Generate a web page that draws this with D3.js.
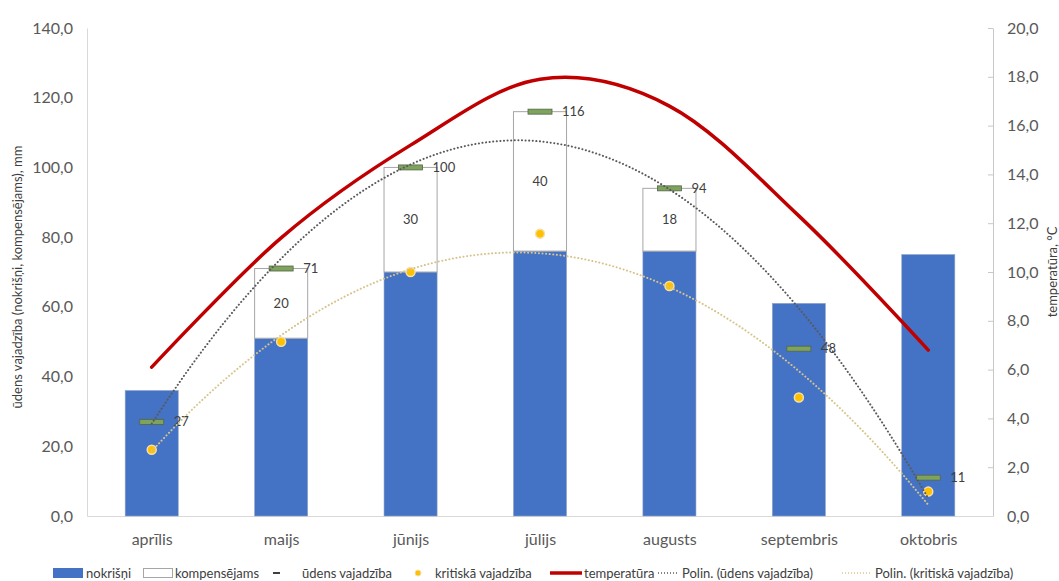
<!DOCTYPE html>
<html><head><meta charset="utf-8">
<script src="https://cdn.jsdelivr.net/npm/d3@7"></script>
<style>body{margin:0;background:#fff} svg{display:block;font-family:Lato,"Open Sans",sans-serif}</style>
</head><body><svg id="c" width="1059" height="581"></svg>
<script>
const categories = ["aprīlis","maijs","jūnijs","jūlijs","augusts","septembris","oktobris"];
const nokrisni = [36, 51, 70, 76, 76, 61, 75];
const kompensejams = [0, 20, 30, 40, 18, 0, 0];
const udensVajadziba = [27, 71, 100, 116, 94, 48, 11];
const kritiskaVajadziba = [19, 50, 70, 81, 66, 34, 7];
const temperatura = [6.1, 11.4, 15.2, 17.9, 16.8, 12.3, 6.8];
const leftTicks = [0, 20, 40, 60, 80, 100, 120, 140];
const rightTicks = [0, 2, 4, 6, 8, 10, 12, 14, 16, 18, 20];
const leftTitle = "ūdens vajadzība (nokrišņi, kompensējams), mm";
const rightTitle = "temperatūra, °C";
const legendLabels = ["nokrišņi","kompensējams","ūdens vajadzība","kritiskā vajadzība","temperatūra","Polin. (ūdens vajadzība)","Polin. (kritiskā vajadzība)"];

const svg = d3.select("#c");
const L = 87, R = 993, T = 28, B = 516;
const x = d3.scalePoint().domain(categories).range([L, R]).padding(0.5);
const yL = d3.scaleLinear().domain([0, 140]).range([B, T]);
const yR = d3.scaleLinear().domain([0, 20]).range([B, T]);
const bw = x.step() * 0.41;
const fmt = d => d3.format(".1f")(d).replace(".", ",");
const axisCol = "#d9d9d9", txtCol = "#595959";

// axes
const gl = svg.append("g").attr("transform", `translate(${L},0)`)
  .call(d3.axisLeft(yL).tickValues(leftTicks).tickFormat(fmt).tickSize(0).tickPadding(14));
gl.select(".domain").attr("stroke", axisCol);
gl.selectAll("text").attr("fill", txtCol).style("font-size", "16px").style("font-family", "Lato");

const gr = svg.append("g").attr("transform", `translate(${R},0)`)
  .call(d3.axisRight(yR).tickValues(rightTicks).tickFormat(fmt).tickSizeInner(-5).tickSizeOuter(0).tickPadding(14));
gr.select(".domain").attr("stroke", "#c8c8c8");
gr.selectAll("line").attr("stroke", "#c8c8c8");
gr.selectAll("text").attr("fill", txtCol).style("font-size", "16px").style("font-family", "Lato");

const gb = svg.append("g").attr("transform", `translate(0,${B})`)
  .call(d3.axisBottom(x).tickSize(0).tickPadding(18));
gb.select(".domain").attr("stroke", axisCol);
gb.selectAll("text").attr("fill", txtCol).style("font-size", "16px").style("font-family", "Lato");

svg.append("text").attr("transform", `translate(22,${(T+B)/2 + 5}) rotate(-90)`)
  .attr("text-anchor", "middle").attr("fill", "#404040").style("font-size", "13px").text(leftTitle);
svg.append("text").attr("transform", `translate(1057,${(T+B)/2 + 0}) rotate(-90)`)
  .attr("text-anchor", "middle").attr("fill", "#404040").style("font-size", "13px").text(rightTitle);

// bars
const bars = svg.append("g");
bars.selectAll("rect.n").data(categories).join("rect").attr("class", "n")
  .attr("x", d => x(d) - bw/2).attr("width", bw)
  .attr("y", (d,i) => yL(nokrisni[i])).attr("height", (d,i) => B - yL(nokrisni[i]))
  .attr("fill", "#4472C4").attr("stroke", "#8fa3c6").attr("stroke-width", 0.6);
bars.selectAll("rect.k").data(categories.filter((d,i) => kompensejams[i] > 0)).join("rect").attr("class", "k")
  .attr("x", d => x(d) - bw/2).attr("width", bw)
  .attr("y", d => { const i = categories.indexOf(d); return yL(nokrisni[i] + kompensejams[i]); })
  .attr("height", d => { const i = categories.indexOf(d); return yL(nokrisni[i]) - yL(nokrisni[i] + kompensejams[i]); })
  .attr("fill", "#fff").attr("stroke", "#a6a6a6").attr("stroke-width", 1);
bars.selectAll("text.k").data(categories.filter((d,i) => kompensejams[i] > 0)).join("text").attr("class", "k")
  .attr("x", d => x(d)).attr("y", d => { const i = categories.indexOf(d); return yL(nokrisni[i] + kompensejams[i]/2); })
  .attr("dy", "0.35em").attr("text-anchor", "middle").attr("fill", "#404040").style("font-size", "13px")
  .text(d => kompensejams[categories.indexOf(d)]);

// kritiskā points
svg.append("g").selectAll("circle").data(categories).join("circle")
  .attr("cx", d => x(d)).attr("cy", (d,i) => yL(kritiskaVajadziba[i])).attr("r", 4.5)
  .attr("fill", "#FFC000").attr("stroke", "#f3e0b0").attr("stroke-width", 1.5);

// ūdens vajadzība markers + labels
const um = svg.append("g");
um.selectAll("rect").data(categories).join("rect")
  .attr("x", d => x(d) - 12).attr("width", 24)
  .attr("y", (d,i) => yL(udensVajadziba[i]) - 2.5).attr("height", 5)
  .attr("fill", "#7ea35c").attr("stroke", "#55644a").attr("stroke-width", 0.8);
um.selectAll("text").data(categories).join("text")
  .attr("x", d => x(d) + 22).attr("y", (d,i) => yL(udensVajadziba[i]))
  .attr("dy", "0.35em").attr("fill", "#404040").style("font-size", "13px")
  .text((d,i) => udensVajadziba[i]);

// polynomial (order 2) trendlines from data
function polyfit2(ys) {
  const n = ys.length, xs = ys.map((_, i) => i + 1);
  let S = [0,0,0,0,0], Ty = [0,0,0];
  xs.forEach((xv, i) => { for (let k = 0; k < 5; k++) S[k] += xv**k; for (let k = 0; k < 3; k++) Ty[k] += xv**k * ys[i]; });
  const M = [[S[0],S[1],S[2],Ty[0]],[S[1],S[2],S[3],Ty[1]],[S[2],S[3],S[4],Ty[2]]];
  for (let c = 0; c < 3; c++) { for (let r = c+1; r < 3; r++) { const f = M[r][c]/M[c][c]; for (let k = c; k < 4; k++) M[r][k] -= f*M[c][k]; } }
  const co = [0,0,0];
  for (let r = 2; r >= 0; r--) { let s = M[r][3]; for (let k = r+1; k < 3; k++) s -= M[r][k]*co[k]; co[r] = s/M[r][r]; }
  return co;
}
const xt = d3.scaleLinear().domain([1, categories.length]).range([x(categories[0]), x(categories[categories.length-1])]);
function trend(ys) {
  const co = polyfit2(ys);
  return d3.range(1, ys.length + 0.001, 0.05).map(t => [xt(t), yL(co[0] + co[1]*t + co[2]*t*t)]);
}
const lineGen = d3.line().curve(d3.curveLinear);
svg.append("path").attr("d", lineGen(trend(udensVajadziba))).attr("fill", "none")
  .attr("stroke", "#595959").attr("stroke-width", 2).attr("stroke-dasharray", "0.1,3.5").attr("stroke-linecap", "round");
svg.append("path").attr("d", lineGen(trend(kritiskaVajadziba))).attr("fill", "none")
  .attr("stroke", "#d7c48c").attr("stroke-width", 2).attr("stroke-dasharray", "0.1,3.5").attr("stroke-linecap", "round");

// temperature
svg.append("path").datum(temperatura)
  .attr("d", d3.line().x((d,i) => x(categories[i])).y(d => yR(d)).curve(d3.curveCardinal.tension(0)))
  .attr("fill", "none").attr("stroke", "#C00000").attr("stroke-width", 3.5).attr("stroke-linecap", "round");

// legend
const lg = svg.append("g").style("font-size", "13px").attr("fill", "#404040");
const ly = 573;
lg.append("rect").attr("x", 53).attr("y", ly-5).attr("width", 30).attr("height", 10).attr("fill", "#4472C4");
lg.append("rect").attr("x", 143.5).attr("y", ly-4.5).attr("width", 29).attr("height", 9).attr("fill", "#fff").attr("stroke", "#a6a6a6");
lg.append("rect").attr("x", 273).attr("y", ly-1).attr("width", 7).attr("height", 2).attr("fill", "#404040");
lg.append("circle").attr("cx", 418).attr("cy", ly).attr("r", 3).attr("fill", "#FFC000").attr("stroke", "#f3e0b0");
lg.append("line").attr("x1", 550).attr("x2", 582).attr("y1", ly).attr("y2", ly).attr("stroke", "#C00000").attr("stroke-width", 3.5);
lg.append("line").attr("x1", 658).attr("x2", 678).attr("y1", ly).attr("y2", ly).attr("stroke", "#595959").attr("stroke-width", 1.5).attr("stroke-dasharray", "1,2");
lg.append("line").attr("x1", 842).attr("x2", 872).attr("y1", ly).attr("y2", ly).attr("stroke", "#d7c48c").attr("stroke-width", 1.5).attr("stroke-dasharray", "1,2");
const lx = [86, 175, 302, 435, 584, 682, 875];
lg.selectAll("text").data(legendLabels).join("text")
  .attr("x", (d,i) => lx[i]).attr("y", ly).attr("dy", "0.35em").text(d => d);
</script></body></html>
